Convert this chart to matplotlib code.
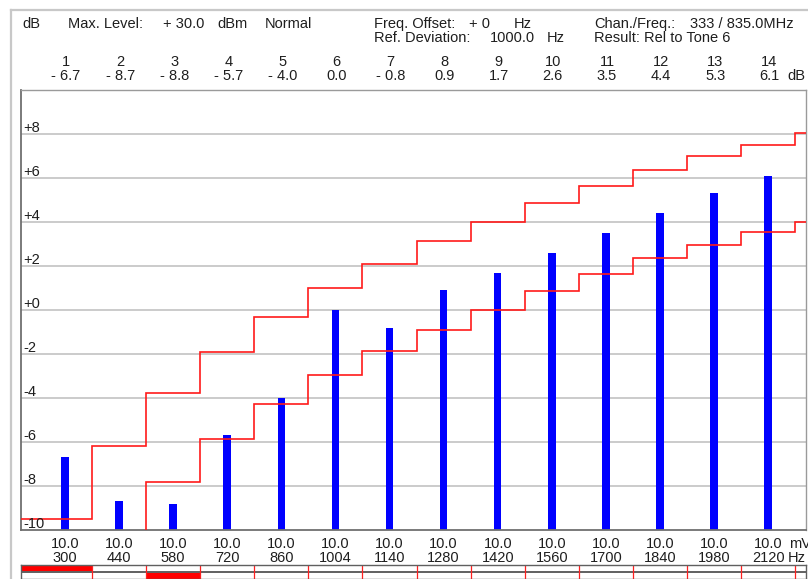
import numpy as np
import matplotlib
matplotlib.use('Agg')
import matplotlib.pyplot as plt
from matplotlib.lines import Line2D
from matplotlib.transforms import blended_transform_factory, offset_copy

plt.rcParams['font.family'] = ['Liberation Sans', 'DejaVu Sans']

# ---------------- data ----------------
tone_numbers = list(range(1, 15))
tone_freqs_hz = [300, 440, 580, 720, 860, 1004, 1140, 1280, 1420, 1560, 1700, 1840, 1980, 2120]
tone_levels_mv = [10.0, 10.0, 10.0, 10.0, 10.0, 10.0, 10.0, 10.0, 10.0, 10.0, 10.0, 10.0, 10.0, 10.0]
rel_levels_db = [-6.7, -8.7, -8.8, -5.7, -4.0, 0.0, -0.8, 0.9, 1.7, 2.6, 3.5, 4.4, 5.3, 6.1]
# limit lines: one value per tone plus one segment beyond the last tone
upper_limit_db = [-9.5, -6.2, -3.75, -1.9, -0.3, 1.0, 2.1, 3.15, 4.0, 4.85, 5.65, 6.35, 7.0, 7.5, 8.05]
# -20 = no lower limit (below the display floor)
lower_limit_db = [-20, -20, -7.8, -5.85, -4.25, -2.95, -1.85, -0.9, 0.0, 0.85, 1.65, 2.35, 2.95, 3.55, 4.0]
y_ticks = [8, 6, 4, 2, 0, -2, -4, -6, -8, -10]
y_tick_labels = ['+8', '+6', '+4', '+2', '+0', '-2', '-4', '-6', '-8', '-10']

# ---------------- figure ----------------
W, H = 808, 579
FS = 10.5
TXT = '#1e1e1e'
fig = plt.figure(figsize=(W / 100, H / 100), dpi=100)
fig.patch.set_facecolor('white')

def fy(y):
    return 1 - y / H

ax_left, ax_right, ax_top, ax_bot = 21, 806, 90, 530
ax = fig.add_axes([ax_left / W, fy(ax_bot), (ax_right - ax_left) / W, (ax_bot - ax_top) / H])
xmin, xmax = -0.813, 13.70
ax.set_xlim(xmin, xmax)
ax.set_ylim(-10, 10)
ax.set_xticks([])
ax.set_yticks([])
for s in ax.spines.values():
    s.set_color('#9a9a9a')
    s.set_linewidth(1.0)
ax.spines['left'].set_color('#707070')
ax.spines['left'].set_linewidth(1.3)
ax.spines['bottom'].set_color('#707070')
ax.spines['bottom'].set_linewidth(1.3)

# grid
for v in y_ticks[:-1]:
    ax.axhline(v, color='#bdbdbd', lw=1.1, zorder=0)

n = len(tone_numbers)
xpos = np.arange(n)
edges = np.concatenate([[xmin], xpos + 0.5, [xmax + 1]])

# bars
vals = np.array(rel_levels_db)
ax.bar(xpos, vals + 10, bottom=-10, width=0.14, color='#0000ff', zorder=2)

# limit lines
ax.stairs(upper_limit_db, edges, baseline=None, color='#ff1a1a', lw=1.2, zorder=3)
ax.stairs(lower_limit_db, edges, baseline=None, color='#ff1a1a', lw=1.2, zorder=3)

# y labels inside plot
tr = blended_transform_factory(ax.transAxes, ax.transData)
tr = offset_copy(tr, fig=fig, x=2, y=2, units='dots')
for v, lab in zip(y_ticks, y_tick_labels):
    ax.text(0, v, lab, transform=tr, ha='left', va='baseline', fontsize=FS, color=TXT, zorder=4)

# bottom labels
trb = blended_transform_factory(ax.transData, fig.transFigure)
for i in range(n):
    ax.text(xpos[i], fy(548), f'{tone_levels_mv[i]:.1f}', transform=trb, ha='center', va='baseline',
            fontsize=FS, color=TXT, clip_on=False)
    ax.text(xpos[i], fy(562), f'{tone_freqs_hz[i]}', transform=trb, ha='center', va='baseline',
            fontsize=FS, color=TXT, clip_on=False)
fig.text(789 / W, fy(548), 'mV', ha='left', va='baseline', fontsize=FS, color=TXT)
fig.text(788 / W, fy(562), 'Hz', ha='left', va='baseline', fontsize=FS, color=TXT)

# header tone rows
for i in range(n):
    v = rel_levels_db[i]
    s = f'- {abs(v):.1f}' if v < 0 else f'{v:.1f}'
    ax.text(xpos[i] + 0.02, fy(66), str(tone_numbers[i]), transform=trb, ha='center', va='baseline',
            fontsize=FS, color=TXT, clip_on=False)
    ax.text(xpos[i] + 0.02, fy(80), s, transform=trb, ha='center', va='baseline',
            fontsize=FS, color=TXT, clip_on=False)
fig.text(787 / W, fy(80), 'dB', ha='left', va='baseline', fontsize=FS, color=TXT)

# header info texts
hdr = [
    (22, 28, 'dB'), (68, 28, 'Max. Level:'), (163, 28, '+ 30.0'), (217, 28, 'dBm'), (265, 28, 'Normal'),
    (374, 28, 'Freq. Offset:'), (469, 28, '+ 0'), (514, 28, 'Hz'),
    (374, 42, 'Ref. Deviation:'), (490, 42, '1000.0'), (547, 42, 'Hz'),
    (594, 28, 'Chan./Freq.:'), (690, 28, '333 / 835.0MHz'),
    (594, 42, 'Result: Rel to Tone 6'),
]
for x, y, t in hdr:
    fig.text(x / W, fy(y), t, ha='left', va='baseline', fontsize=FS, color=TXT)

# outer frame lines
fig.add_artist(Line2D([11 / W, 11 / W], [fy(10), 0], transform=fig.transFigure, color='#c8c8c8', lw=1.6))
fig.add_artist(Line2D([11 / W, 1], [fy(10), fy(10)], transform=fig.transFigure, color='#c8c8c8', lw=1.6))

# limit status band
band = fig.add_axes([ax_left / W, 0, (ax_right - ax_left) / W, (579 - 565) / H])
band.set_xlim(xmin, xmax)
band.set_ylim(0, 2)
band.set_xticks([])
band.set_yticks([])
for s in band.spines.values():
    s.set_color('#606060')
    s.set_linewidth(1.0)
band.axhline(1, color='#606060', lw=1.4)
for i in range(n):
    if rel_levels_db[i] > upper_limit_db[i]:
        band.axvspan(edges[i], edges[i + 1], ymin=0.5, ymax=1, color='#ff0000', lw=0)
    if rel_levels_db[i] < lower_limit_db[i]:
        band.axvspan(edges[i], edges[i + 1], ymin=0, ymax=0.5, color='#ff0000', lw=0)
band.vlines(xpos + 0.5, 0, 2, color='#ff2020', lw=0.9)

fig.savefig('out.png', dpi=100, facecolor='white')
